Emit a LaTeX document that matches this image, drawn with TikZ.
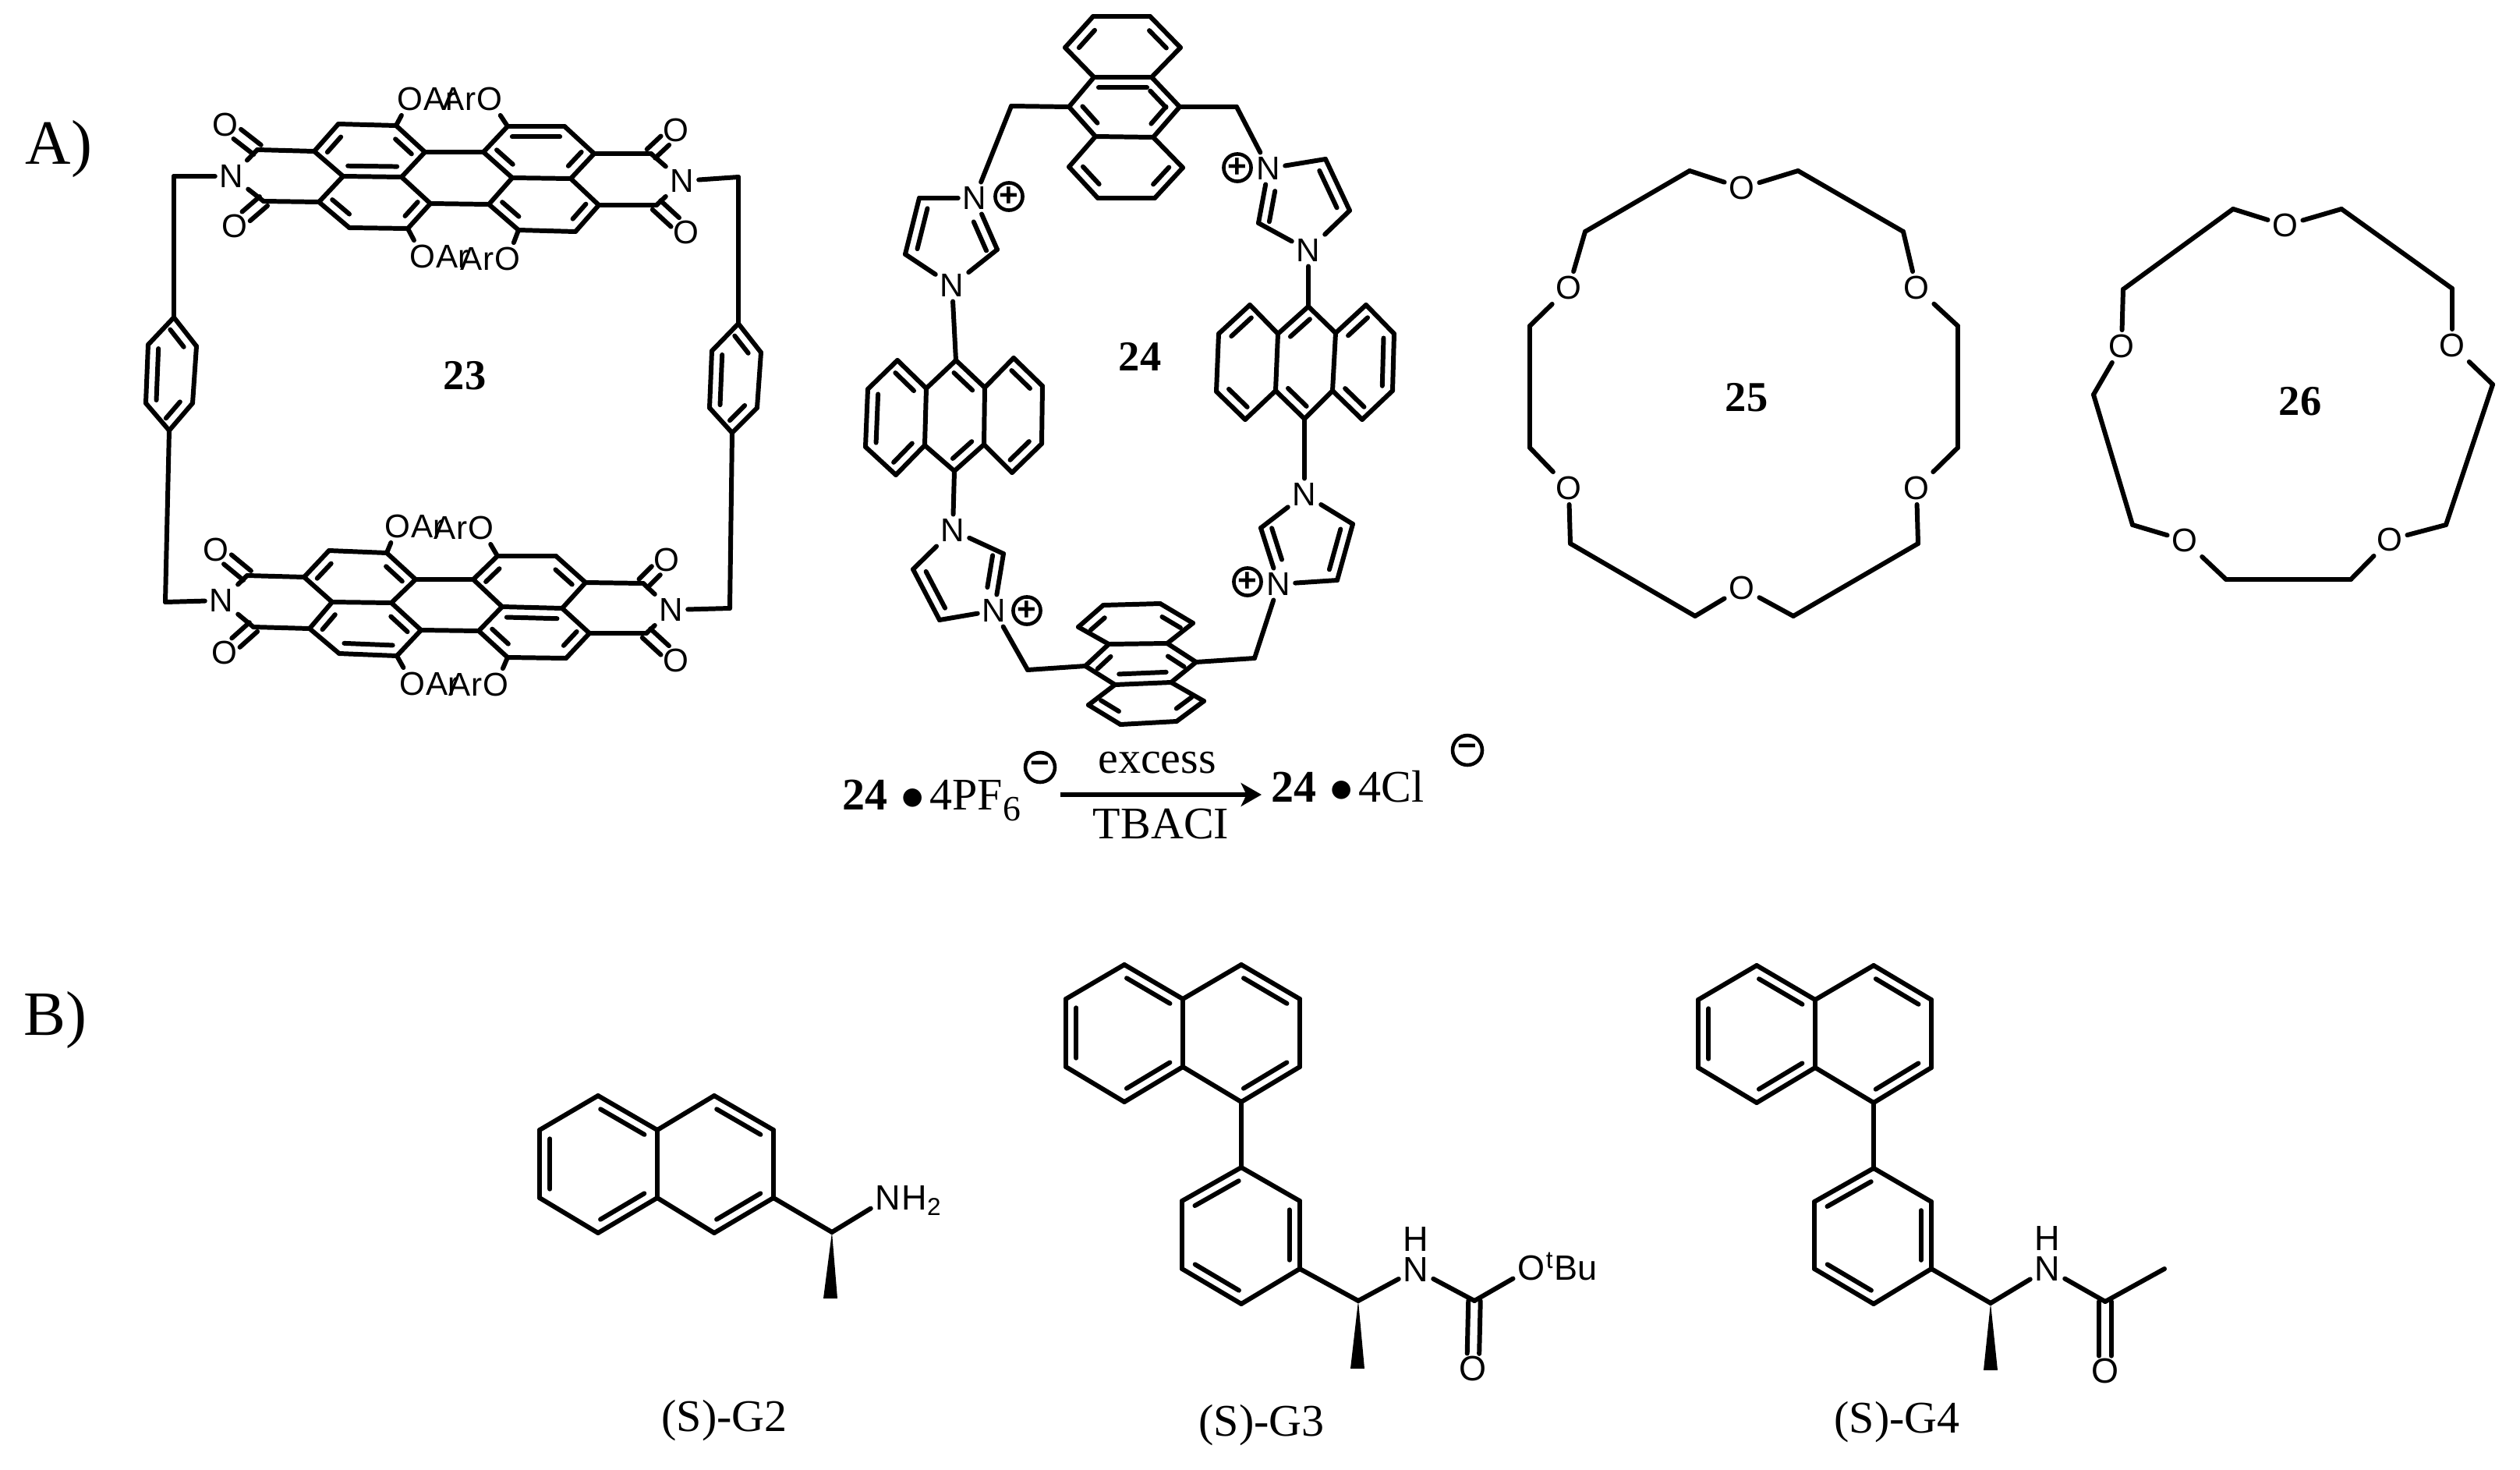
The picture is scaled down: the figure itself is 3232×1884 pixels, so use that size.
\documentclass[tikz,border=0pt]{standalone}
\usepackage{fontspec}
\setmainfont{Liberation Serif}
\newfontfamily\atomFont{Liberation Sans}
\usetikzlibrary{calc,positioning,arrows.meta}
\newcommand{\bondGap}{3.8pt}
\newcommand{\carbonylGap}{2.2pt}
\tikzset{
  bond/.style={line width=1.7pt,line cap=round,line join=round},
  atom/.style={font=\atomFont\fontsize{12}{13}\selectfont,inner sep=1.5pt},
  atomBig/.style={font=\atomFont\fontsize{12.8}{14}\selectfont,inner sep=1.5pt},
  charge/.style={circle,draw,line width=1.3pt,inner sep=0pt,minimum size=10pt,font=\atomFont\bfseries\fontsize{12}{12}\selectfont},
  caption/.style={font=\fontsize{16.5}{18}\selectfont,inner sep=0pt},
  number/.style={font=\bfseries\fontsize{15.5}{18}\selectfont,inner sep=0pt},
  panel/.style={font=\fontsize{23}{26}\selectfont,inner sep=0pt,anchor=base west}
}
\newcommand{\innerBond}[4]{%
  \coordinate (da) at ($(#3)!#1!(#4)$);
  \coordinate (db) at ($(#4)!#2!(#3)$);
  \draw[bond] ($(da)!\bondGap!90:(#4)$) -- ($(db)!\bondGap!-90:(#3)$);}
\newcommand{\carbonyl}[2]{%
  \coordinate (de) at ($(#2)!5.5pt!(#1)$);
  \draw[bond] ($(#1)!\carbonylGap!90:(#2)$) -- ($(de)!\carbonylGap!-90:(#1)$);
  \draw[bond] ($(#1)!\carbonylGap!-90:(#2)$) -- ($(de)!\carbonylGap!90:(#1)$);}
\newcommand{\wedgeBond}[2]{\fill (#1) -- ($(#2)+(9,0)$) -- ($(#2)+(-9,0)$) -- cycle;}
\begin{document}
\begin{tikzpicture}[x=0.01cm,y=-0.01cm]
\useasboundingbox (0,0) rectangle (3232,1884);
\node[panel] (panelA) at (32,210) {A)};
\node[panel] (panelB) at (30,1327) {B)};
% compound 23
\foreach \n/\x/\y in {t1/403/194,t2/434/159,t3/508/161,t4/545/195,t5/515/227,t6/440/226,t7/409/259,t8/448/292,t9/523/293,t10/552/261,
  t11/627/262,t12/665/295,t13/738/297,t14/768/263,t15/732/229,t16/657/228,t17/620/195,t18/651/162,t19/724/162,t20/762/197,
  tc1/330/192,tc2/338/258,tc3/835/197,tc4/842/263,
  b1/390/740,b2/422/706,b3/496/709,b4/533/743,b5/502/773,b6/426/772,b7/397/806,b8/435/838,b9/509/841,b10/540/808,
  b11/614/809,b12/651/843,b13/726/844,b14/756/812,b15/721/780,b16/644/778,b17/607/743,b18/638/713,b19/713/713,b20/751/747,
  bc1/317/738,bc2/325/804,bc3/825/748,bc4/829/812,
  l1/223/226,l2/212/772,l3/947/227,l4/936/780,
  p1/223/407,p2/252/444,p3/247/517,p4/217/552,p5/187/517,p6/190/442,
  q1/947/415,q2/976/452,q3/971/523,q4/939/555,q5/910/523,q6/913/450}
  \coordinate (\n) at (\x,\y);
\foreach \n/\x/\y/\t in {tn1/297/226/N,tn2/875/232/N,to1/289/160/O,to2/301/290/O,to3/867/167/O,to4/880/298/O,
  ta1/526/127/O,ta2/628/127/O,ta3/542/329/O,ta4/651/332/O,
  bn1/284/770/N,bn2/861/782/N,bo1/277/705/O,bo2/288/837/O,bo3/855/718/O,bo4/867/847/O,
  ba1/510/675/O,ba2/617/677/O,ba3/529/877/O,ba4/636/878/O}
  \node[atom] (\n) at (\x,\y) {\t};
\foreach \u in {t,b} {
  \node[atom,base right=-3pt of \u a1] (\u r1) {Ar};
  \node[atom,base left=-3pt of \u a2] (\u r2) {Ar};
  \node[atom,base right=-3pt of \u a3] (\u r3) {Ar};
  \node[atom,base left=-3pt of \u a4] (\u r4) {Ar};
  \foreach \a/\b in {1/2,2/3,3/4,4/5,5/6,6/1,6/7,7/8,8/9,9/10,10/5,4/17,10/11,17/16,16/11,11/12,12/13,13/14,14/15,15/16,17/18,18/19,19/20,20/15,
    1/c1,7/c2,20/c3,14/c4,c1/n1,c2/n1,c3/n2,c4/n2,3/a1,18/a2,9/a3,12/a4}
    \draw[bond] (\u\a) -- (\u\b);
  \foreach \c/\o in {c1/o1,c2/o2,c3/o3,c4/o4}
    {\carbonyl{\u\c}{\u\o}}
  \foreach \a/\b in {2/1,4/3,11/12,13/14}
    {\innerBond{.22}{.22}{\u\a}{\u\b}}
}
\foreach \a/\b in {t7/t8,t9/t10,t17/t16,t15/t20,b6/b7,b10/b5,b18/b17,b20/b19}
  {\innerBond{.22}{.22}{\a}{\b}}
\foreach \a/\b in {t6/t5,t19/t18,b8/b9,b15/b16}
  {\innerBond{.08}{.08}{\a}{\b}}
\foreach \u in {p,q} {
  \foreach \a/\b in {1/2,2/3,3/4,4/5,5/6,6/1}
    \draw[bond] (\u\a) -- (\u\b);
  \foreach \a/\b in {2/1,4/3}
    {\innerBond{.2}{.2}{\u\a}{\u\b}}
  \innerBond{.06}{.06}{\u6}{\u5}
}
\foreach \a/\b in {tn1/l1,l1/p1,p4/l2,l2/bn1,tn2/l3,l3/q1,q4/l4,l4/bn2}
  \draw[bond] (\a) -- (\b);
\node[number] (num23) at (596,482) {23};
% compound 24
\foreach \n/\x/\y in {a1/1402/21,a2/1475/21,a3/1514/61,a4/1477/99,a5/1403/99,a6/1366/61,a7/1513/137,a8/1479/176,a9/1405/175,a10/1371/137,
  a11/1517/215,a12/1481/254,a13/1408/254,a14/1371/214,
  e1/1415/776,e2/1488/774,e3/1530/799,e4/1497/825,e5/1422/826,e6/1383/804,e7/1534/849,e8/1502/875,e9/1430/878,e10/1392/854,
  e11/1544/899,e12/1509/925,e13/1437/929,e14/1396/904,
  f1/1151/462,f2/1188/498,f3/1186/571,f4/1149/609,f5/1110/573,f6/1113/499,f7/1226/462,f8/1263/497,f9/1262/570,f10/1224/604,
  f11/1300/459,f12/1337/495,f13/1336/569,f14/1298/606,
  g1/1603/391,g2/1639/428,g3/1636/501,g4/1597/538,g5/1560/502,g6/1563/428,g7/1678/393,g8/1713/427,g9/1709/501,g10/1673/537,
  g11/1752/391,g12/1788/428,g13/1786/501,g14/1747/538,
  h2/1179/254,h3/1161/326,h5/1279/320,i2/1700/204,i3/1731/270,i5/1614/286,
  j2/1287/710,j4/1205/795,j5/1171/730,k2/1735/672,k3/1715/744,k5/1617/677,
  m1/1297/136,m2/1586/137,m3/1318/859,m4/1609/844}
  \coordinate (\n) at (\x,\y);
\foreach \n/\x/\y in {h1/1250/254,h4/1221/366,i1/1627/216,i4/1678/321,j1/1222/680,j3/1275/783,k1/1673/634,k4/1640/749}
  \node[atom] (\n) at (\x,\y) {N};
\foreach \n/\x/\y in {plus1/1294/252,plus2/1587/215,plus3/1317/783,plus4/1600/746}
  \node[charge] (\n) at (\x,\y) {+};
\foreach \u in {a,e} {
  \foreach \a/\b in {1/2,2/3,3/4,4/5,5/6,6/1,4/7,7/8,8/9,9/10,10/5,8/11,11/12,12/13,13/14,14/9}
    \draw[bond] (\u\a) -- (\u\b);
  \foreach \a/\b in {1/6,3/2,7/4,14/13,12/11}
    {\innerBond{.22}{.22}{\u\a}{\u\b}}
}
\foreach \a/\b in {a10/a9,a8/a7,e5/e10}
  {\innerBond{.22}{.22}{\a}{\b}}
\foreach \a/\b in {a4/a5,e9/e8}
  {\innerBond{.08}{.08}{\a}{\b}}
\foreach \u in {f,g} {
  \foreach \a/\b in {1/2,2/3,3/4,4/5,5/6,6/1,2/7,7/8,8/9,9/10,10/3,8/11,11/12,12/13,13/14,14/9}
    \draw[bond] (\u\a) -- (\u\b);
}
\foreach \a/\b in {f2/f1,f4/f3,f8/f7,f10/f9,f12/f11,f14/f13,g1/g6,g5/g4,g7/g2,g3/g10,g11/g8,g9/g14}
  {\innerBond{.18}{.18}{\a}{\b}}
\foreach \a/\b in {f6/f5,g13/g12}
  {\innerBond{.08}{.08}{\a}{\b}}
\foreach \u in {h,i,j,k} {
  \foreach \a/\b in {1/2,2/3,3/4,4/5,5/1}
    \draw[bond] (\u\a) -- (\u\b);
}
\foreach \a/\b/\fa/\fb in {h2/h3/.14/.14,h5/h1/.06/.38,i3/i2/.14/.14,i1/i5/.38/.06,j3/j2/.38/.06,j5/j4/.14/.14,k3/k2/.14/.14,k5/k4/.06/.38}
  {\innerBond{\fa}{\fb}{\a}{\b}}
\foreach \a/\b in {a10/m1,m1/h1,a7/m2,m2/i1,h4/f7,i4/g7,g10/k1,f10/j1,j3/m3,m3/e10,k4/m4,m4/e7}
  \draw[bond] (\a) -- (\b);
\node[number] (num24) at (1462,457) {24};
% reaction line
\node[caption,anchor=base west] (lhs) at (1080,1038) {\textbf{24}\hspace{4.7pt}$\bullet$\hspace{2pt}4PF\raisebox{-4pt}{\fontsize{13}{13}\selectfont 6}};
\node[caption,anchor=base west] (rhs) at (1630,1028) {\textbf{24}\hspace{4.7pt}$\bullet$\hspace{2pt}4Cl};
\node[charge,minimum size=10.8pt] (minus1) at (1334,984) {−};
\node[charge,minimum size=10.8pt] (minus2) at (1882,962) {−};
\coordinate (arrowA) at (1360,1019);
\coordinate (arrowB) at (1618,1019);
\draw[line width=1.6pt,-{Stealth[length=7.5pt,width=8.5pt,inset=2pt]}] (arrowA) -- (arrowB);
\node[caption] (excess) at (1484,978) {excess};
\node[caption,anchor=base] (tbaci) at (1489,1075) {TBACI};
% compounds 25 and 26
\foreach \n/\x/\y in {c2/2306/219,c3/2441/297,c5/2511/418,c6/2511/574,c8/2460/697,c9/2300/790,c11/2174/790,c12/2014/697,c14/1962/574,c15/1962/418,c17/2033/297,c18/2167/219,
  d2/3003/268,d3/3145/370,d5/3197/493,d6/3137/673,d8/3015/743,d9/2855/743,d11/2735/673,d12/2685/506,d14/2723/371,d15/2864/268}
  \coordinate (\n) at (\x,\y);
\foreach \n/\x/\y in {c1/2234/241,c4/2458/369,c7/2458/626,c10/2234/754,c13/2012/626,c16/2012/369,
  d1/2931/289,d4/3145/443,d7/3065/692,d10/2802/693,d13/2721/444}
  \node[atom] (\n) at (\x,\y) {O};
\foreach \n [remember=\n as \p (initially c18)] in {c1,c2,c3,c4,c5,c6,c7,c8,c9,c10,c11,c12,c13,c14,c15,c16,c17,c18}
  \draw[bond] (\p) -- (\n);
\foreach \n [remember=\n as \p (initially d15)] in {d1,d2,d3,d4,d5,d6,d7,d8,d9,d10,d11,d12,d13,d14,d15}
  \draw[bond] (\p) -- (\n);
\node[number] (num25) at (2240,510) {25};
\node[number] (num26) at (2950,515) {26};
% guests
\foreach \n/\x/\y in {x1/767/1405,x2/843/1449,x3/843/1536,x4/767/1581,x5/692/1536,x6/692/1449,x7/916/1405,x8/992/1449,x9/992/1536,x10/916/1581,
  y1/1442/1237,y2/1517/1281,y3/1517/1368,y4/1442/1413,y5/1367/1368,y6/1367/1281,y7/1592/1237,y8/1667/1281,y9/1667/1368,y10/1592/1413,
  z1/2253/1238,z2/2328/1282,z3/2328/1369,z4/2253/1414,z5/2178/1369,z6/2178/1282,z7/2403/1238,z8/2477/1282,z9/2477/1369,z10/2403/1414,
  v1/1592/1497,v2/1667/1540,v3/1667/1627,v4/1592/1672,v5/1516/1627,v6/1516/1540,
  w1/2403/1498,w2/2477/1541,w3/2477/1627,w4/2403/1672,w5/2327/1627,w6/2327/1541,
  xs/1067/1580,xe/1065/1665,ys/1742/1668,ye/1741/1755,ym/1891/1668,zs/2553/1671,ze/2553/1757,zm/2700/1669,zq/2776/1627}
  \coordinate (\n) at (\x,\y);
\foreach \n/\x/\y/\t in {xn/1139/1536/N,yn/1816/1628/N,yo/1889/1755/O,yp/1964/1626/O,zn/2626/1627/N,zo/2700/1758/O}
  \node[atomBig] (\n) at (\x,\y) {\t};
\node[atomBig,base right=-3pt of xn] (xh) {H\textsubscript{2}};
\node[atomBig,base right=-3pt of yp] (ytbu) {\textsuperscript{t}Bu};
\node[atomBig,above=-1pt of yn] (yh) {H};
\node[atomBig,above=-1pt of zn] (zh) {H};
\foreach \u in {x,y,z} {
  \foreach \a/\b in {1/2,2/3,3/4,4/5,5/6,6/1,2/7,7/8,8/9,9/10,10/3}
    \draw[bond] (\u\a) -- (\u\b);
  \foreach \a/\b in {2/1,6/5,4/3,8/7,10/9}
    {\innerBond{.13}{.13}{\u\a}{\u\b}}
}
\foreach \u in {v,w} {
  \foreach \a/\b in {1/2,2/3,3/4,4/5,5/6,6/1}
    \draw[bond] (\u\a) -- (\u\b);
  \foreach \a/\b in {1/6,3/2,5/4}
    {\innerBond{.13}{.13}{\u\a}{\u\b}}
}
\foreach \a/\b in {x9/xs,xs/xn,y10/v1,v3/ys,ys/yn,yn/ym,ym/yp,z10/w1,w3/zs,zs/zn,zn/zm,zm/zq}
  \draw[bond] (\a) -- (\b);
\carbonyl{ym}{yo}
\carbonyl{zm}{zo}
\wedgeBond{xs}{xe}
\wedgeBond{ys}{ye}
\wedgeBond{zs}{ze}
\node[caption] (labelG2) at (929,1822) {(S)-G2};
\node[caption] (labelG3) at (1618,1828) {(S)-G3};
\node[caption] (labelG4) at (2433,1824) {(S)-G4};
\end{tikzpicture}
\end{document}
